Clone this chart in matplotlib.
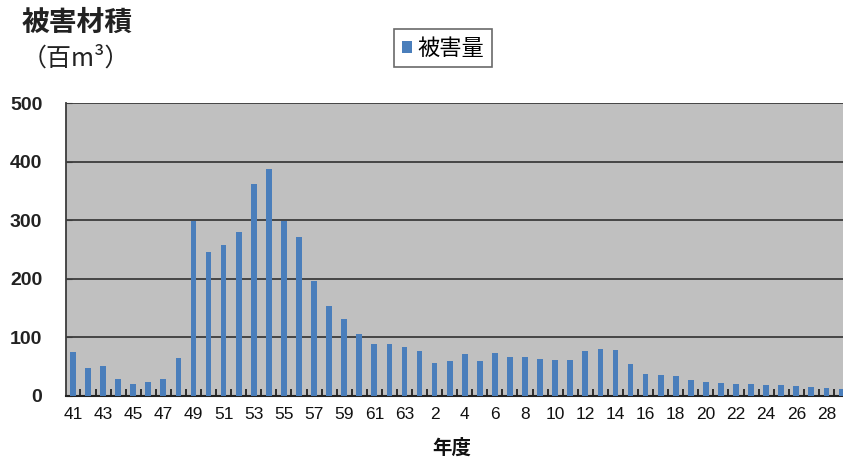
import matplotlib.pyplot as plt
import numpy as np

plt.rcParams['font.family'] = ['Noto Sans CJK JP', 'DejaVu Sans']

# 年度 (昭和41〜63, 平成1〜29)
showa = [str(y) for y in range(41, 64)]
heisei = [str(y) for y in range(1, 30)]
years = showa + heisei

# 被害量 (百m3)
damage = [75, 48, 51, 29, 21, 24, 29, 64, 298, 245, 258, 280, 361, 388, 298,
          272, 197, 153, 131, 105, 88, 88, 84,
          77, 56, 59, 71, 60, 73, 67, 67, 63, 61, 61, 76, 81, 79, 54, 37, 35,
          34, 27, 24, 22, 21, 21, 19, 18, 17, 15, 13, 12]

bar_color = '#4a7ebb'
grid_color = '#3c3c3c'
num_font = ['Liberation Sans', 'DejaVu Sans']

fig = plt.figure(figsize=(8.43, 4.61), dpi=100)
ax = fig.add_axes([66 / 843, 1 - 396 / 461, (843 - 66) / 843, (396 - 103) / 461])
ax.set_facecolor('#c0c0c0')

x = np.arange(len(years))
ax.bar(x, damage, width=0.38, color=bar_color, label='被害量', zorder=3)

ax.set_xlim(-0.46, 51.1)
ax.set_ylim(0, 500)
ax.set_yticks(range(0, 501, 100))
ax.set_yticklabels([str(v) for v in range(0, 501, 100)], family=num_font,
                   fontsize=14, fontweight='bold', color='#222222')
ax.grid(axis='y', color=grid_color, linewidth=1.3, zorder=1)
ax.tick_params(axis='y', direction='in', length=4, pad=17, color=grid_color)

ax.set_xticks(x[::2])
ax.set_xticklabels(years[::2], family=num_font, fontsize=12.5,
                   color='#111111')
ax.set_xticks(x[:-1] + 0.5, minor=True)
ax.tick_params(axis='x', which='major', length=0, pad=8)
ax.tick_params(axis='x', which='minor', direction='in', length=5, width=1.3,
               color='#222222')

for side in ['top', 'right']:
    ax.spines[side].set_visible(False)
ax.spines['left'].set_color(grid_color)
ax.spines['left'].set_linewidth(1.3)
ax.spines['bottom'].set_color('#222222')
ax.spines['bottom'].set_linewidth(1.5)

fig.text(22 / 843, 1 - 23 / 461, '被害材積', fontsize=20, fontweight='bold',
         va='center', ha='left', color='#222222')
fig.text(22 / 843, 1 - 59 / 461, '（百m³）', fontsize=18,
         va='center', ha='left', color='#222222')
fig.text(452 / 843, 1 - 448 / 461, '年度', fontsize=14, fontweight='bold',
         va='center', ha='center', color='#111111')

leg = ax.legend(loc='center', bbox_to_anchor=(443 / 843, 1 - 48 / 461),
                bbox_transform=fig.transFigure, fontsize=16, frameon=True,
                fancybox=False, handlelength=0.45, handleheight=0.45,
                handletextpad=0.25, borderpad=0.35, borderaxespad=0)
leg.get_frame().set_edgecolor('#444444')
leg.get_frame().set_linewidth(1.2)

plt.savefig('out.png', dpi=100)
